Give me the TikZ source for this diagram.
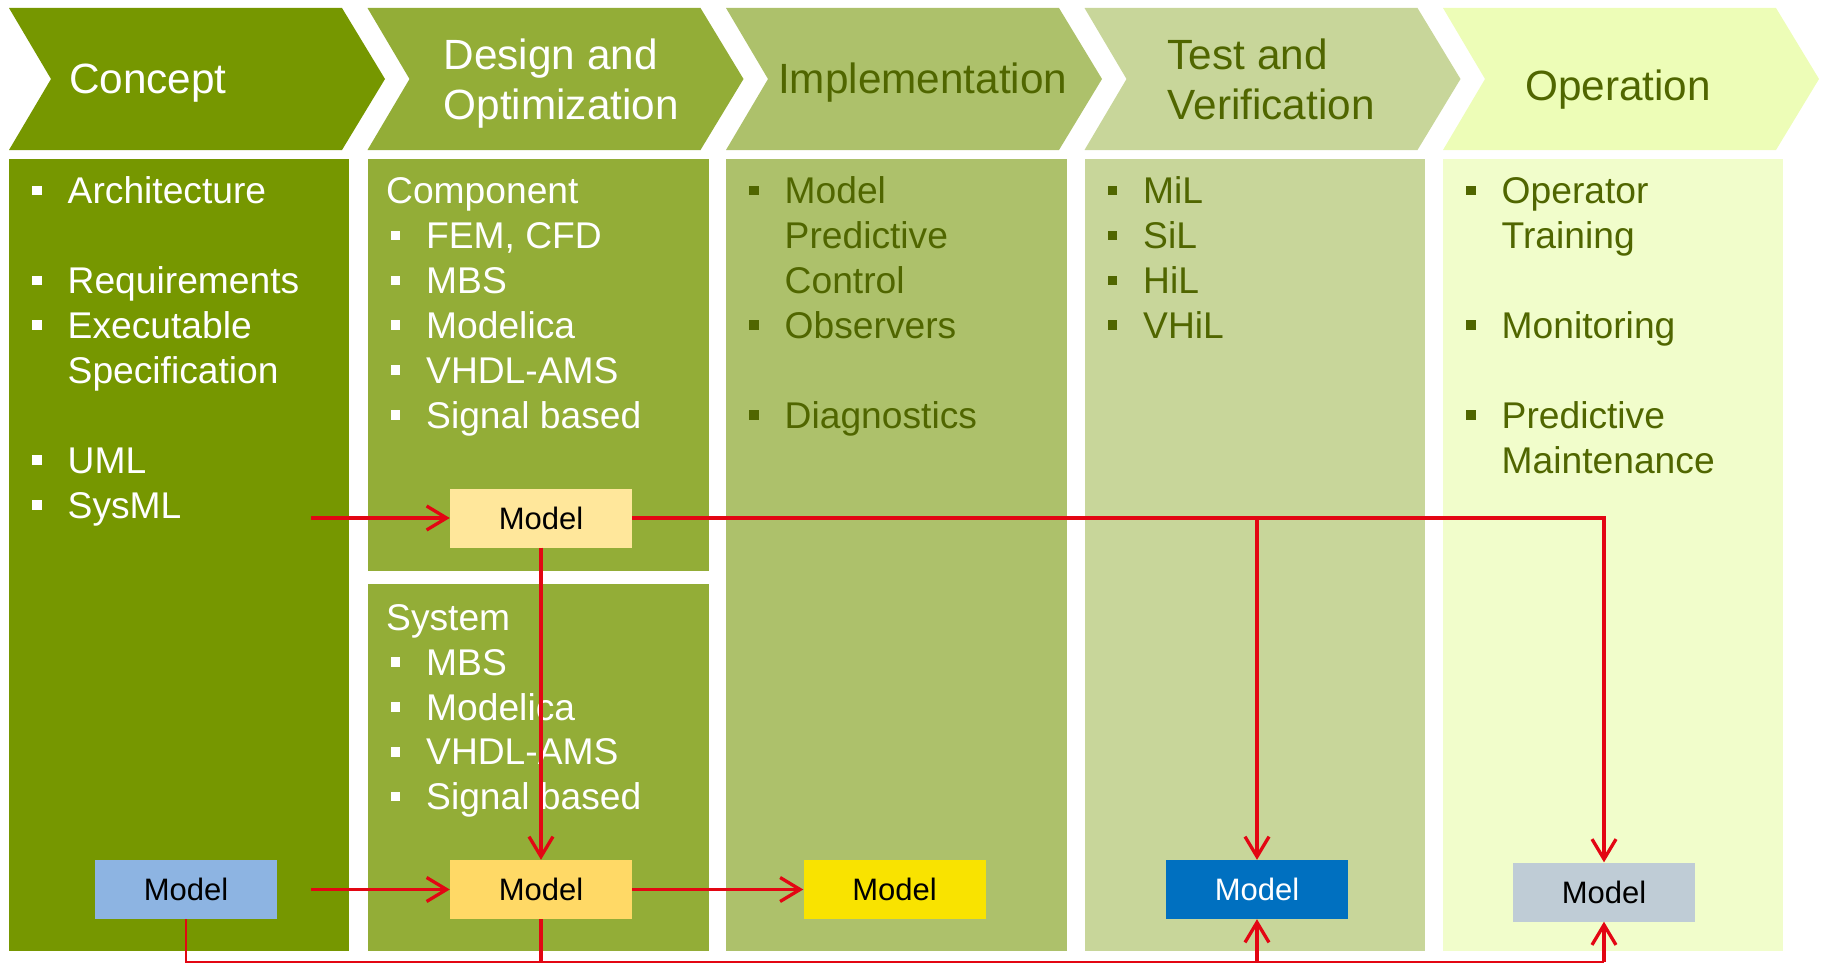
\documentclass[tikz,border=0pt]{standalone}
\usepackage{fontspec}
\setmainfont{Liberation Sans}
\usetikzlibrary{arrows.meta}

\definecolor{cConcept}{HTML}{769700}
\definecolor{cDesign}{HTML}{93AD37}
\definecolor{cImpl}{HTML}{ADC16B}
\definecolor{cTest}{HTML}{C8D69A}
\definecolor{cOpHead}{HTML}{EDFDB7}
\definecolor{cOpBody}{HTML}{F1FDCB}
\definecolor{txtDark}{HTML}{506600}
\definecolor{linkred}{HTML}{E30613}
\definecolor{mBlue}{HTML}{8DB4E2}
\definecolor{mPale}{HTML}{FFE79B}
\definecolor{mGold}{HTML}{FFD966}
\definecolor{mYellow}{HTML}{F9E300}
\definecolor{mDeep}{HTML}{0070C0}
\definecolor{mGrey}{HTML}{BFCCD6}

% phase arrow across the top, #1 = left edge of the column
\newcommand\chevron[2]{\fill[#2] (#1,8) -- ({#1+333},8) -- ({#1+376},79) -- ({#1+333},150) -- (#1,150) -- ({#1+42},79) -- cycle;}
% bulleted entry: #1 name, #2 column left edge, #3 row centre, #4 text
\newcommand\bitem[4]{%
  \node[bulletsq] (#1-b) at ({#2+28},#3) {};
  \node[body] (#1) at ({#2+58.5},{#3+13.2}) {#4};}
% continuation line without bullet
\newcommand\citem[4]{\node[body] (#1) at ({#2+58.5},{#3+13.2}) {#4};}
\newcommand\rowy[1]{190.5+44.9*#1}

\tikzset{
  hdr/.style={font=\fontsize{42.3}{50}\selectfont, anchor=base west, inner sep=0pt},
  body/.style={font=\fontsize{37.2}{45}\selectfont, anchor=base west, inner sep=0pt},
  bulletsq/.style={minimum size=9.5pt, inner sep=0pt, fill},
  model/.style={minimum width=182pt, minimum height=59pt, inner sep=0pt,
    font=\fontsize{31}{36}\selectfont},
  link/.style={draw=linkred, line width=3.3pt},
  arr/.style={link, -{Straight Barb[length=20pt,width=24pt]}},
}

\begin{document}
\begin{tikzpicture}[x=1pt, y=-1pt]
\useasboundingbox (0,0) rectangle (1825,963);

% phase arrows
\chevron{9}{cConcept}
\chevron{367.5}{cDesign}
\chevron{726}{cImpl}
\chevron{1084.5}{cTest}
\chevron{1443}{cOpHead}

% columns
\fill[cConcept] (9,159) rectangle (349,951);
\fill[cDesign] (367.5,159) rectangle (708.5,571);
\fill[cDesign] (367.5,584) rectangle (708.5,951);
\fill[cImpl] (726,159) rectangle (1067,951);
\fill[cTest] (1084.5,159) rectangle (1425,951);
\fill[cOpBody] (1443,159) rectangle (1783,951);

% phase titles
\node[hdr, text=white] (hConcept) at (69,93.5) {Concept};
\node[hdr, text=white] (hDesign1) at (443.5,70) {Design and};
\node[hdr, text=white] (hDesign2) at (443.5,120) {Optimization};
\node[hdr, text=txtDark] (hImpl) at (778,94) {Implementation};
\node[hdr, text=txtDark] (hTest1) at (1167.5,70) {Test and};
\node[hdr, text=txtDark] (hTest2) at (1167.5,120) {Verification};
\node[hdr, text=txtDark] (hOp) at (1525,101) {Operation};

% Concept
\begin{scope}[bulletsq/.append style={fill=white}, body/.append style={text=white}]
\bitem{c1}{9}{\rowy{0}}{Architecture}
\bitem{c2}{9}{\rowy{2}}{Requirements}
\bitem{c3}{9}{\rowy{3}}{Executable}
\citem{c4}{9}{\rowy{4}}{Specification}
\bitem{c5}{9}{\rowy{6}}{UML}
\bitem{c6}{9}{\rowy{7}}{SysML}
% Design and Optimization
\node[body] (dComp) at (386,{\rowy{0}+13.2}) {Component};
\bitem{d1}{367.5}{\rowy{1}}{FEM, CFD}
\bitem{d2}{367.5}{\rowy{2}}{MBS}
\bitem{d3}{367.5}{\rowy{3}}{Modelica}
\bitem{d4}{367.5}{\rowy{4}}{VHDL-AMS}
\bitem{d5}{367.5}{\rowy{5}}{Signal based}
\node[body] (dSys) at (386,{\rowy{9.5}+13.2}) {System};
\bitem{s1}{367.5}{\rowy{10.5}}{MBS}
\bitem{s2}{367.5}{\rowy{11.5}}{Modelica}
\bitem{s3}{367.5}{\rowy{12.5}}{VHDL-AMS}
\bitem{s4}{367.5}{\rowy{13.5}}{Signal based}
\end{scope}

\begin{scope}[bulletsq/.append style={fill=txtDark}, body/.append style={text=txtDark}]
% Implementation
\bitem{i1}{726}{\rowy{0}}{Model}
\citem{i2}{726}{\rowy{1}}{Predictive}
\citem{i3}{726}{\rowy{2}}{Control}
\bitem{i4}{726}{\rowy{3}}{Observers}
\bitem{i5}{726}{\rowy{5}}{Diagnostics}
% Test and Verification
\bitem{t1}{1084.5}{\rowy{0}}{MiL}
\bitem{t2}{1084.5}{\rowy{1}}{SiL}
\bitem{t3}{1084.5}{\rowy{2}}{HiL}
\bitem{t4}{1084.5}{\rowy{3}}{VHiL}
% Operation
\bitem{o1}{1443}{\rowy{0}}{Operator}
\citem{o2}{1443}{\rowy{1}}{Training}
\bitem{o3}{1443}{\rowy{3}}{Monitoring}
\bitem{o4}{1443}{\rowy{5}}{Predictive}
\citem{o5}{1443}{\rowy{6}}{Maintenance}
\end{scope}

% models
\node[model, fill=mBlue] (mConcept) at (186,889.5) {Model};
\node[model, fill=mPale] (mComp) at (541,518) {Model};
\node[model, fill=mGold] (mSys) at (541,889.5) {Model};
\node[model, fill=mYellow] (mImpl) at (894.5,889.5) {Model};
\node[model, fill=mDeep, text=white] (mTest) at (1257,889.5) {Model};
\node[model, fill=mGrey] (mOp) at (1604,892) {Model};

% connector anchors
\coordinate (srcTop) at (311,518);
\coordinate (srcBot) at (311,889.5);
\coordinate (jTopTest) at (mTest.north |- mComp.east);
\coordinate (jTopOp) at (mOp.north |- mComp.east);
\coordinate (jBotConcept) at (mConcept.south |- 0,962);
\coordinate (jBotSys) at (mSys.south |- 0,962);
\coordinate (jBotTest) at (mTest.south |- 0,962);
\coordinate (jBotOp) at (mOp.south |- 0,962);

% connectors
\draw[arr] (srcTop) -- (mComp.west);
\draw[arr] (mComp.south) -- (mSys.north);
\draw[arr] (srcBot) -- (mSys.west);
\draw[arr] (mSys.east) -- (mImpl.west);
\draw[arr] (mComp.east) -- (jTopOp) -- (mOp.north);
\draw[arr] (jTopTest) -- (mTest.north);
\draw[link, line width=2.6pt] (mConcept.south) -- (jBotConcept) -- (jBotOp);
\draw[link] (mSys.south) -- (jBotSys);
\draw[arr] (jBotTest) -- (mTest.south);
\draw[arr] (jBotOp) -- (mOp.south);
\end{tikzpicture}
\end{document}
